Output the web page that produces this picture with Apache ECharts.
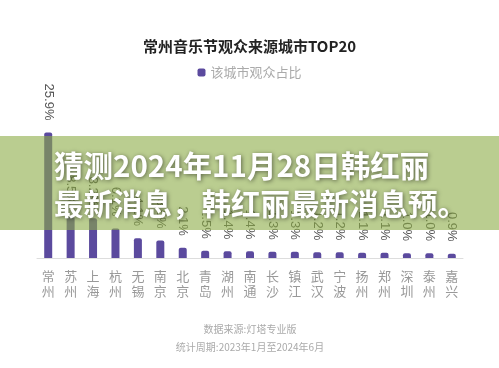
<!DOCTYPE html>
<html>
<head>
<meta charset="utf-8">
<script src="https://cdn.jsdelivr.net/npm/echarts@6/dist/echarts.min.js"></script>
<style>
html,body{margin:0;padding:0;background:#fff;}
#chart{width:499px;height:368px;}
</style>
</head>
<body>
<div id="chart"></div>
<script>
const titleText = '常州音乐节观众来源城市TOP20';
const seriesName = '该城市观众占比';
const categories = ['常州','苏州','上海','杭州','无锡','南京','北京','青岛','湖州','南通','长沙','镇江','武汉','宁波','扬州','郑州','深圳','泰州','嘉兴'];
const shares = [25.9, 8.5, 8.2, 6.1, 4.1, 3.6, 2.1, 1.5, 1.4, 1.4, 1.3, 1.3, 1.2, 1.2, 1.1, 1.1, 1.0, 1.0, 0.9];
const overlayLines = ['猜测2024年11月28日韩红丽', '最新消息，韩红丽最新消息预。'];
const footerLines = ['数据来源:灯塔专业版', '统计周期:2023年1月至2024年6月'];

const CJK = '"Noto Sans CJK SC", "Noto Sans", sans-serif';
const chart = echarts.init(document.getElementById('chart'), null, {renderer: 'canvas'});

const overlayStyle = {
  textAlign: 'left',
  textVerticalAlign: 'middle',
  font: 'bold 29.5px "Noto Sans CJK SC"',
  fill: '#ffffff',
  textShadowColor: 'rgba(0,0,0,0.5)',
  textShadowBlur: 4,
  textShadowOffsetX: 1,
  textShadowOffsetY: 1
};

chart.setOption({
  backgroundColor: '#ffffff',
  animation: false,
  title: {
    text: titleText,
    left: 'center',
    top: 34,
    textStyle: {fontFamily: CJK, fontSize: 15, fontWeight: 'bold', color: '#222'}
  },
  legend: {
    data: [seriesName],
    left: 'center',
    top: 61,
    icon: 'roundRect',
    itemWidth: 8,
    itemHeight: 8,
    itemGap: 5,
    textStyle: {fontFamily: CJK, fontSize: 13, color: '#aaa'}
  },
  grid: {left: 37, right: 36, top: 132, bottom: 110, containLabel: false},
  xAxis: {
    type: 'category',
    data: categories,
    axisLine: {lineStyle: {color: '#ddd', width: 1}},
    axisTick: {show: false},
    axisLabel: {
      interval: 0,
      margin: 11,
      fontFamily: CJK,
      fontSize: 13,
      lineHeight: 15,
      color: '#999',
      formatter: v => v.split('').join('\n')
    }
  },
  yAxis: {
    type: 'value',
    min: 0,
    max: 26,
    show: false,
    splitLine: {show: false}
  },
  series: [{
    name: seriesName,
    type: 'bar',
    data: shares,
    barWidth: 8,
    itemStyle: {color: '#5b4a9e', borderRadius: [2, 2, 0, 0]},
    label: {
      show: true,
      position: 'top',
      rotate: -90,
      align: 'right',
      verticalAlign: 'middle',
      distance: 12,
      fontSize: 13,
      color: '#555',
      formatter: p => p.value.toFixed(1) + '%'
    }
  }],
  graphic: [
    {
      type: 'rect',
      z: 100,
      shape: {x: 0, y: 136, width: 499, height: 94},
      style: {fill: 'rgba(140,172,70,0.6)'}
    },
    {
      type: 'text',
      z: 101,
      style: Object.assign({text: overlayLines[0], x: 54, y: 166}, overlayStyle)
    },
    {
      type: 'text',
      z: 101,
      style: Object.assign({text: overlayLines[1], x: 54, y: 204}, overlayStyle)
    },
    {
      type: 'text',
      z: 50,
      style: {
        text: footerLines[0],
        x: 250, y: 329,
        textAlign: 'center',
        textVerticalAlign: 'middle',
        font: '10px "Noto Sans CJK SC"',
        fill: '#aaa'
      }
    },
    {
      type: 'text',
      z: 50,
      style: {
        text: footerLines[1],
        x: 250, y: 347,
        textAlign: 'center',
        textVerticalAlign: 'middle',
        font: '10px "Noto Sans CJK SC"',
        fill: '#aaa'
      }
    }
  ]
});
</script>
</body>
</html>
